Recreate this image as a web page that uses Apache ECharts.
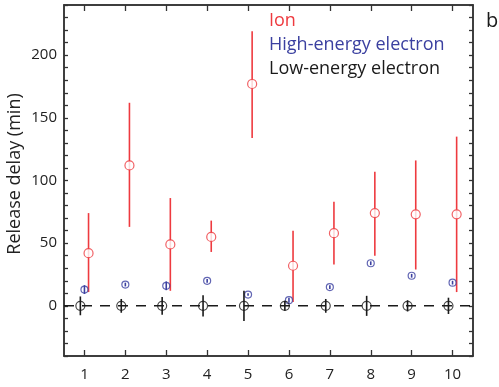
<!DOCTYPE html>
<html>
<head>
<meta charset="utf-8">
<script src="https://cdn.jsdelivr.net/npm/echarts@6/dist/echarts.min.js"></script>
<style>
html,body{margin:0;padding:0;background:#fff;}
#chart{width:499px;height:387px;}
</style>
</head>
<body>
<div id="chart"></div>
<script>
// categories (run number)
var runs = [1, 2, 3, 4, 5, 6, 7, 8, 9, 10];
var xTicks = [1, 2, 3, 4, 5, 6, 7, 8, 9, 10];
var yLabels = [0, 50, 100, 150, 200];

// Ion
var ionMean = [42, 112, 49, 55, 177, 32, 58, 74, 73, 73];
var ionLow  = [11, 63, 12, 43, 134, 3, 33, 40, 29, 11];
var ionHigh = [74, 162, 86, 68, 219, 60, 83, 107, 116, 135];

// High-energy electron
var hiMean = [13, 17, 16, 20, 9, 4.5, 15, 34, 24, 18.5];
var hiLow  = [9.5, 15.5, 12.5, 18.5, 8, 2.5, 13.5, 32.5, 22.5, 17];
var hiHigh = [16.5, 18.5, 19.5, 21.5, 10, 6.5, 16.5, 35.5, 25.5, 20];

// Low-energy electron
var loMean = [0, 0, 0, 0, 0, 0, 0, 0, 0, 0];
var loLow  = [-7.5, -5.5, -7, -8.5, -12, -4, -5.5, -8, -4.5, -6.5];
var loHigh = [7.5, 5.5, 7, 8.5, 12, 4, 5.5, 8, 4.5, 6.5];

var RED = '#ee3a3f', BLUE = '#3b40a0', BLACK = '#1a1a1a';
var FONT = 'Open Sans';

function errData(off, low, high) {
	return runs.map(function (r, i) { return [r + off, low[i], high[i]]; });
}
function ptData(off, mean) {
	return runs.map(function (r, i) { return [r + off, mean[i]]; });
}
function errSeries(data, color, z) {
	return {
		type: 'custom',
		data: data,
		z: z,
		silent: true,
		encode: { x: 0, y: [1, 2] },
		renderItem: function (params, api) {
			var a = api.coord([api.value(0), api.value(1)]);
			var b = api.coord([api.value(0), api.value(2)]);
			return {
				type: 'line',
				shape: { x1: a[0], y1: a[1], x2: b[0], y2: b[1] },
				style: { stroke: color, lineWidth: 1.6 }
			};
		}
	};
}
function ptSeries(data, color, size, fill, z) {
	return {
		type: 'scatter',
		data: data,
		z: z,
		symbol: 'circle',
		symbolSize: size,
		silent: true,
		itemStyle: { color: fill, borderColor: color, borderWidth: 1.2 }
	};
}

var tickLabel = { color: '#222', fontSize: 15, fontFamily: FONT };
var axisLn = { show: true, onZero: false, lineStyle: { color: '#333', width: 1.5 } };

var chart = echarts.init(document.getElementById('chart'));
var option = {
	animation: false,
	grid: { left: 64, right: 26, top: 5, bottom: 31, show: true, borderColor: '#333', borderWidth: 1.5, backgroundColor: 'transparent' },
	xAxis: [{
		type: 'value', min: 0.5, max: 10.5, position: 'bottom',
		axisLine: axisLn,
		axisTick: { inside: true, length: 6, customValues: xTicks, lineStyle: { color: '#333', width: 1.3 } },
		axisLabel: Object.assign({ customValues: xTicks, margin: 11 }, tickLabel),
		splitLine: { show: false }
	}, {
		type: 'value', min: 0.5, max: 10.5, position: 'top',
		axisLine: axisLn,
		axisTick: { inside: true, length: 6, customValues: xTicks, lineStyle: { color: '#333', width: 1.3 } },
		axisLabel: { show: false },
		splitLine: { show: false }
	}],
	yAxis: [{
		type: 'value', min: -40, max: 240, interval: 10, position: 'left',
		axisLine: axisLn,
		axisTick: { inside: true, length: 4, lineStyle: { color: '#333', width: 1.3 } },
		axisLabel: Object.assign({ customValues: yLabels, margin: 7 }, tickLabel),
		splitLine: { show: false }
	}, {
		type: 'value', min: -40, max: 240, interval: 10, position: 'right',
		axisLine: axisLn,
		axisTick: { inside: true, length: 4, lineStyle: { color: '#333', width: 1.3 } },
		axisLabel: { show: false },
		splitLine: { show: false }
	}],
	graphic: [
		{ type: 'text', left: 269, top: 12, style: { text: 'Ion', fill: RED, font: '18px "' + FONT + '"' } },
		{ type: 'text', left: 269, top: 36, style: { text: 'High-energy electron', fill: BLUE, font: '18px "' + FONT + '"' } },
		{ type: 'text', left: 269, top: 60, style: { text: 'Low-energy electron', fill: BLACK, font: '18px "' + FONT + '"' } },
		{ type: 'text', left: 486, top: 11, style: { text: 'b', fill: BLACK, font: '20px "' + FONT + '"' } },
		{ type: 'text', x: 15, y: 174, rotation: Math.PI / 2, style: { text: 'Release delay (min)', fill: '#222', font: '18px "' + FONT + '"', align: 'center', verticalAlign: 'middle' } }
	],
	series: [
		{
			type: 'line', data: [[0.5, 0], [10.5, 0]], symbol: 'none', z: 1, silent: true,
			lineStyle: { color: BLACK, width: 1.5, type: [10, 8] }
		},
		errSeries(errData(0.1, ionLow, ionHigh), RED, 2),
		ptSeries(ptData(0.1, ionMean), RED, 9, '#fff', 3),
		ptSeries(ptData(0, hiMean), BLUE, 7, 'rgba(0,0,0,0)', 4),
		errSeries(errData(0, hiLow, hiHigh), BLUE, 5),
		ptSeries(ptData(-0.1, loMean), BLACK, 9, 'rgba(0,0,0,0)', 4),
		errSeries(errData(-0.1, loLow, loHigh), BLACK, 5)
	]
};
chart.setOption(option, true);
</script>
</body>
</html>
